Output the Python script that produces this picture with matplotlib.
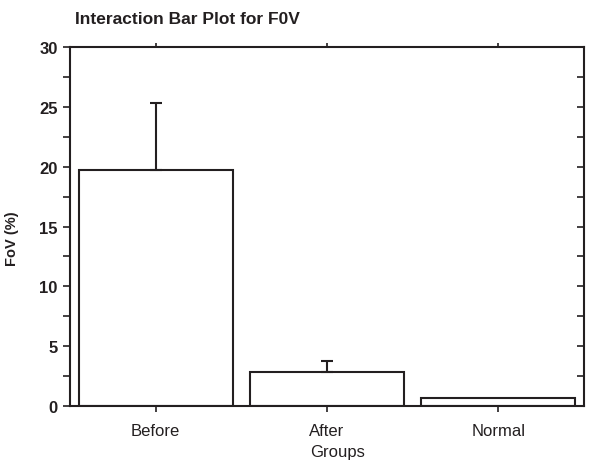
import matplotlib
matplotlib.use("Agg")
import matplotlib.pyplot as plt
from matplotlib.ticker import MultipleLocator

categories = ["Before", "After", "Normal"]
means = [19.7, 2.8, 0.7]
errors = [5.6, 1.0, 0.0]
y_ticks = [0, 5, 10, 15, 20, 25, 30]

ink = "#231f20"
plt.rcParams["font.family"] = ["Liberation Sans", "DejaVu Sans"]

fig = plt.figure(figsize=(5.92, 4.64), dpi=100)
ax = fig.add_axes([70/592, 1-407/464, (584-70)/592, (407-48)/464])

x = list(range(len(categories)))
ax.bar(x, means, width=0.9, facecolor="white", edgecolor=ink, linewidth=1.5)
for xi, m, e in zip(x, means, errors):
    if e > 0:
        ax.errorbar([xi], [m], yerr=[[0], [e]], fmt="none", ecolor=ink,
                    elinewidth=1.5, capsize=4, capthick=1.5)

ax.set_xlim(-0.5, 2.5)
ax.set_ylim(0, 30)
ax.set_yticks(y_ticks)
ax.set_yticklabels([str(t) for t in y_ticks], fontsize=12, fontweight="bold", color=ink)
ax.yaxis.set_minor_locator(MultipleLocator(2.5))
ax.set_xticks(x)
ax.set_xticklabels(categories, fontsize=12, color=ink)

for s in ax.spines.values():
    s.set_linewidth(1.5)
    s.set_color(ink)

ax.tick_params(axis="y", which="both", direction="out", length=5, width=1.2,
               colors=ink, right=True, pad=4)
ax.tick_params(axis="x", which="both", direction="out", length=4, width=1.2,
               colors=ink, top=True, pad=8)

# right spine ticks point inward
for t in ax.yaxis.get_major_ticks() + ax.yaxis.get_minor_ticks():
    t.tick2line.set_marker(matplotlib.lines.TICKLEFT)
# small top ticks
for t in ax.xaxis.get_major_ticks():
    t.tick2line.set_markersize(3)

ax.set_xlabel("Groups", fontsize=12, color=ink)
ax.xaxis.set_label_coords(0.52, -0.105)
ax.set_ylabel("FoV (%)", fontsize=10.5, fontweight="bold", color=ink)
ax.yaxis.set_label_coords(-0.1, 0.47)

fig.text(75/592, 1-24/464, "Interaction Bar Plot for F0V", fontsize=12.5,
         fontweight="bold", color=ink, va="baseline", ha="left")

fig.savefig("out.png", dpi=100)
